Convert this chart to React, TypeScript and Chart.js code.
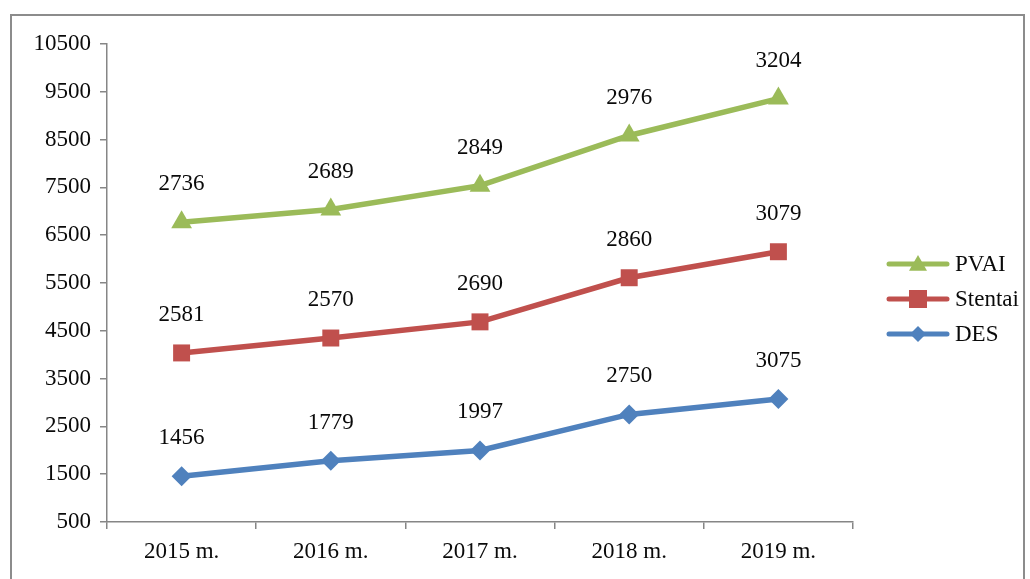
import React, { useEffect, useRef } from "react";
import { Chart, registerables } from "chart.js";

Chart.register(...registerables);

const categories = ["2015 m.", "2016 m.", "2017 m.", "2018 m.", "2019 m."];
const desValues = [1456, 1779, 1997, 2750, 3075];
const stentaiValues = [2581, 2570, 2690, 2860, 3079];
const pvaiValues = [2736, 2689, 2849, 2976, 3204];

const FONT = "'Liberation Serif', 'Times New Roman', serif";
const GREEN = "#9BBB59";
const RED = "#C0504D";
const BLUE = "#4F81BD";
const AXIS = "#868686";
const TEXT = "#0a0a0a";

const legendItems = [
  { label: "PVAI", color: GREEN, style: "triangle", r: 9 },
  { label: "Stentai", color: RED, style: "rect", r: 9 },
  { label: "DES", color: BLUE, style: "rectRot", r: 8 },
];

function drawMarker(ctx: CanvasRenderingContext2D, style: string, x: number, y: number, r: number, color: string) {
  ctx.save();
  ctx.fillStyle = color;
  ctx.beginPath();
  if (style === "triangle") {
    ctx.moveTo(x, y - r);
    ctx.lineTo(x + r, y + r * 0.75);
    ctx.lineTo(x - r, y + r * 0.75);
    ctx.closePath();
  } else if (style === "rect") {
    ctx.rect(x - r, y - r, 2 * r, 2 * r);
  } else {
    ctx.moveTo(x, y - r);
    ctx.lineTo(x + r, y);
    ctx.lineTo(x, y + r);
    ctx.lineTo(x - r, y);
    ctx.closePath();
  }
  ctx.fill();
  ctx.restore();
}

const framePlugin = {
  id: "frame",
  beforeDraw(chart: any) {
    const ctx = chart.ctx;
    ctx.save();
    ctx.fillStyle = "#ffffff";
    ctx.fillRect(0, 0, chart.width, chart.height);
    ctx.strokeStyle = "#8c8c8c";
    ctx.lineWidth = 2;
    ctx.strokeRect(11, 15, 1013, 600);
    ctx.restore();
  },
};

const labelsPlugin = {
  id: "valueLabels",
  afterDatasetsDraw(chart: any) {
    const ctx = chart.ctx;
    ctx.save();
    ctx.font = `23px ${FONT}`;
    ctx.fillStyle = TEXT;
    ctx.textAlign = "center";
    ctx.textBaseline = "middle";
    chart.data.datasets.forEach((ds: any, i: number) => {
      const meta = chart.getDatasetMeta(i);
      meta.data.forEach((pt: any, j: number) => {
        ctx.fillText(String(ds.data[j]), pt.x, pt.y - 38);
      });
    });
    ctx.restore();
  },
};

const legendPlugin = {
  id: "customLegend",
  afterDraw(chart: any) {
    const ctx = chart.ctx;
    ctx.save();
    const x0 = 889;
    const x1 = 947;
    const ys = [264, 299, 334];
    legendItems.forEach((it, i) => {
      const y = ys[i];
      ctx.strokeStyle = it.color;
      ctx.lineWidth = 5;
      ctx.lineCap = "round";
      ctx.beginPath();
      ctx.moveTo(x0, y);
      ctx.lineTo(x1, y);
      ctx.stroke();
      drawMarker(ctx, it.style, (x0 + x1) / 2, y, it.r, it.color);
      ctx.fillStyle = TEXT;
      ctx.font = `23px ${FONT}`;
      ctx.textAlign = "left";
      ctx.textBaseline = "middle";
      ctx.fillText(it.label, 955, y + 1);
    });
    ctx.restore();
  },
};

export default function App() {
  const ref = useRef<HTMLCanvasElement | null>(null);

  useEffect(() => {
    if (!ref.current) return;
    const chart = new Chart(ref.current, {
      type: "line",
      data: {
        labels: categories,
        datasets: [
          {
            label: "DES",
            data: desValues,
            borderColor: BLUE,
            backgroundColor: BLUE,
            borderWidth: 5.5,
            pointStyle: "rectRot",
            pointRadius: 10,
            pointBorderWidth: 0,
            tension: 0,
            fill: false,
          },
          {
            label: "Stentai",
            data: stentaiValues,
            borderColor: RED,
            backgroundColor: RED,
            borderWidth: 5.5,
            pointStyle: "rect",
            pointRadius: 12,
            pointBorderWidth: 0,
            tension: 0,
            fill: false,
          },
          {
            label: "PVAI",
            data: pvaiValues,
            borderColor: GREEN,
            backgroundColor: GREEN,
            borderWidth: 5.5,
            pointStyle: "triangle",
            pointRadius: 12,
            pointBorderWidth: 0,
            tension: 0,
            fill: false,
          },
        ],
      },
      options: {
        responsive: false,
        animation: false,
        devicePixelRatio: 1,
        layout: { padding: { left: 0, top: 44, right: 177, bottom: 0 } },
        plugins: {
          legend: { display: false },
          tooltip: { enabled: false },
        },
        scales: {
          x: {
            offset: true,
            grid: {
              offset: true,
              drawOnChartArea: false,
              drawTicks: true,
              tickLength: 7,
              color: AXIS,
              lineWidth: 1.5,
            },
            border: { color: AXIS, width: 1.5 },
            ticks: {
              color: TEXT,
              font: { family: FONT, size: 23 },
              padding: 9,
              maxRotation: 0,
            },
            afterFit(scale: any) {
              scale.height = 57;
            },
          },
          y: {
            stacked: true,
            min: 500,
            max: 10500,
            grid: {
              drawOnChartArea: false,
              drawTicks: true,
              tickLength: 7,
              color: AXIS,
              lineWidth: 1.5,
            },
            border: { color: AXIS, width: 1.5 },
            ticks: {
              stepSize: 1000,
              color: TEXT,
              font: { family: FONT, size: 23 },
              padding: 9,
              callback: (v: any) => String(v),
            },
            afterFit(scale: any) {
              scale.width = 107;
            },
          },
        },
      },
      plugins: [framePlugin, labelsPlugin, legendPlugin],
    });
    return () => chart.destroy();
  }, []);

  return (
    <div style={{ position: "absolute", left: 0, top: 0, width: 1030, height: 579, background: "#fff" }}>
      <canvas ref={ref} width={1030} height={579} style={{ display: "block" }} />
    </div>
  );
}
